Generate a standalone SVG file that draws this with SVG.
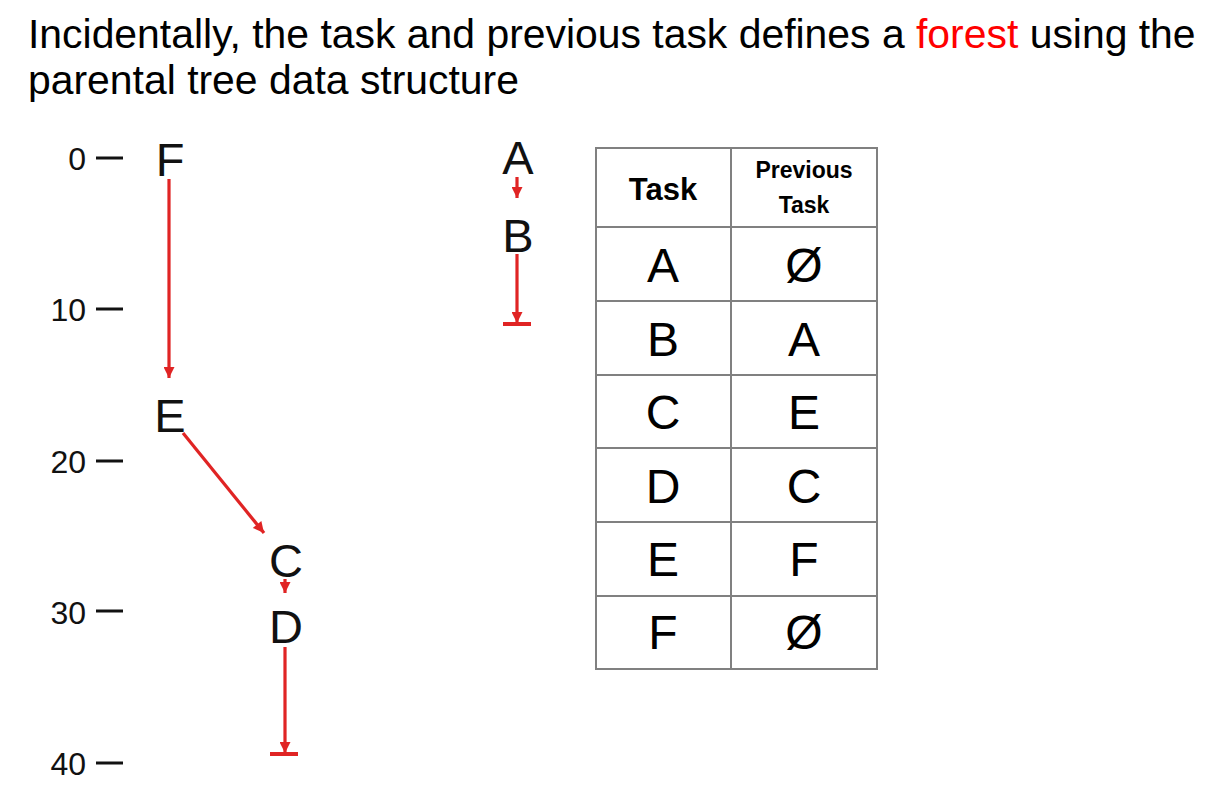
<svg xmlns="http://www.w3.org/2000/svg" width="1210" height="811" viewBox="0 0 1210 811">
<style>
.title{font-family:"Liberation Sans",Arial,sans-serif;font-size:40.9px;fill:#000}
.red{fill:#ff0000}
.axis{font-family:"Liberation Sans",Arial,sans-serif;font-size:32px;fill:#111;text-anchor:end}
.tick{stroke:#111;stroke-width:3}
.node{font-family:"Liberation Sans",Arial,sans-serif;font-size:47px;fill:#111;text-anchor:middle}
.cell{font-family:"Liberation Sans",Arial,sans-serif;font-size:48px;fill:#000;text-anchor:middle}
.hdr{font-family:"Liberation Sans",Arial,sans-serif;font-weight:bold;fill:#000;text-anchor:middle}
.grid{stroke:#808080;stroke-width:2;fill:none}
.edge{stroke:#e02424;stroke-width:3.2;fill:none}
.bar{stroke:#e02424;stroke-width:4}
</style>
<defs>
<marker id="ah" viewBox="0 0 12 12" refX="12" refY="6" markerWidth="12" markerHeight="11" markerUnits="userSpaceOnUse" orient="auto">
<path d="M0,0 L12,6 L0,12 z" fill="#e02424"/>
</marker>
</defs>
<rect width="1210" height="811" fill="#fff"/>
<g id="title">
<text class="title" x="28" y="48">Incidentally, the task and previous task defines a <tspan class="red">forest</tspan> using the</text>
<text class="title" x="28" y="94">parental tree data structure</text>
</g>
<g id="axis">
<text class="axis" x="86" y="170">0</text>
<text class="axis" x="86" y="321">10</text>
<text class="axis" x="86" y="473">20</text>
<text class="axis" x="86" y="624">30</text>
<text class="axis" x="86" y="775">40</text>
<line class="tick" x1="96" y1="158" x2="123" y2="158"/>
<line class="tick" x1="96" y1="309" x2="123" y2="309"/>
<line class="tick" x1="96" y1="461" x2="123" y2="461"/>
<line class="tick" x1="96" y1="611" x2="123" y2="611"/>
<line class="tick" x1="96" y1="763" x2="123" y2="763"/>
</g>
<g id="node-F"><text class="node" x="170" y="176">F</text></g>
<g id="node-E"><text class="node" x="170" y="432">E</text></g>
<g id="node-C"><text class="node" x="286" y="577">C</text></g>
<g id="node-D"><text class="node" x="286" y="643">D</text></g>
<g id="node-A"><text class="node" x="518" y="174">A</text></g>
<g id="node-B"><text class="node" x="518" y="252">B</text></g>
<g id="connectors">
<line class="edge" x1="169" y1="179" x2="169" y2="378" marker-end="url(#ah)"/>
<line class="edge" x1="183" y1="433" x2="264" y2="533" marker-end="url(#ah)"/>
<line class="edge" x1="285" y1="579" x2="285" y2="593" marker-end="url(#ah)"/>
<line class="edge" x1="285" y1="647" x2="285" y2="753" marker-end="url(#ah)"/>
<line class="bar" x1="270" y1="754" x2="298" y2="754"/>
<line class="edge" x1="517" y1="177" x2="517" y2="198" marker-end="url(#ah)"/>
<line class="edge" x1="517" y1="254" x2="517" y2="323" marker-end="url(#ah)"/>
<line class="bar" x1="503" y1="324" x2="531" y2="324"/>
</g>
<g id="table">
<rect class="grid" x="596" y="148" width="281" height="521"/>
<line class="grid" x1="731" y1="148" x2="731" y2="669"/>
<line class="grid" x1="596" y1="227" x2="877" y2="227"/>
<line class="grid" x1="596" y1="301" x2="877" y2="301"/>
<line class="grid" x1="596" y1="375" x2="877" y2="375"/>
<line class="grid" x1="596" y1="448" x2="877" y2="448"/>
<line class="grid" x1="596" y1="522" x2="877" y2="522"/>
<line class="grid" x1="596" y1="596" x2="877" y2="596"/>
<text class="hdr" x="663" y="200" font-size="31">Task</text>
<text class="hdr" x="804" y="178" font-size="23">Previous</text>
<text class="hdr" x="804" y="213" font-size="23">Task</text>
<text class="cell" x="663" y="282">A</text><text class="cell" x="804" y="282">Ø</text>
<text class="cell" x="663" y="356">B</text><text class="cell" x="804" y="356">A</text>
<text class="cell" x="663" y="429">C</text><text class="cell" x="804" y="429">E</text>
<text class="cell" x="663" y="503">D</text><text class="cell" x="804" y="503">C</text>
<text class="cell" x="663" y="576">E</text><text class="cell" x="804" y="576">F</text>
<text class="cell" x="663" y="649">F</text><text class="cell" x="804" y="649">Ø</text>
</g>
</svg>
